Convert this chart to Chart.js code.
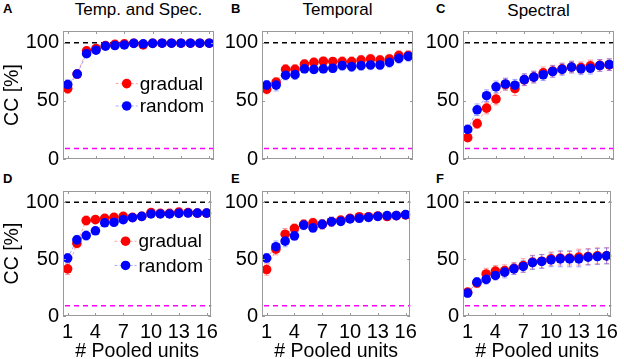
<!DOCTYPE html>
<html>
<head>
<meta charset="utf-8">
<script src="https://cdn.jsdelivr.net/npm/chart.js@4.4.0/dist/chart.umd.min.js"></script>
<style>
  body { margin: 0; background: #fff; width: 624px; height: 359px; position: relative; overflow: hidden; font-family: "Liberation Sans", Arial, sans-serif; }
  canvas { position: absolute; }
  .letter { position: absolute; font-weight: bold; font-size: 13px; line-height: 13px; }
  .title { position: absolute; font-size: 17px; line-height: 17px; width: 151px; text-align: center; white-space: nowrap; }
</style>
</head>
<body>
<div class="letter" style="left:3px;top:2px">A</div>
<div class="letter" style="left:231px;top:2px">B</div>
<div class="letter" style="left:436px;top:2px">C</div>
<div class="letter" style="left:3px;top:172px">D</div>
<div class="letter" style="left:231px;top:172px">E</div>
<div class="letter" style="left:436px;top:172px">F</div>
<div class="title" style="left:63px;top:1px">Temp. and Spec.</div>
<div class="title" style="left:262px;top:1px">Temporal</div>
<div class="title" style="left:463px;top:2px">Spectral</div>

<canvas id="pA" width="222" height="175" style="left:0px;top:0px"></canvas>
<canvas id="pB" width="222" height="175" style="left:199px;top:0px"></canvas>
<canvas id="pC" width="222" height="175" style="left:400px;top:0px"></canvas>
<canvas id="pD" width="222" height="188" style="left:0px;top:175px"></canvas>
<canvas id="pE" width="222" height="188" style="left:199px;top:175px"></canvas>
<canvas id="pF" width="222" height="188" style="left:400px;top:175px"></canvas>

<script>
// Data
const pooledUnits = [1, 2, 3, 4, 5, 6, 7, 8, 9, 10, 11, 12, 13, 14, 15, 16];
const xTicks = [1, 4, 7, 10, 13, 16];
const yTicks = [0, 50, 100];
const seriesNames = ['gradual', 'random'];
const ceilingLevel = 100;
const chanceLevel = 9;

// A - Temp. and Spec. (top row)
const aGradual = [60.5, 73, 93, 95, 97.5, 98.5, 99, 99.5, 98, 99.5, 99.5, 99.5, 99.5, 99.5, 99.5, 99.5];
const aGradualErr = [4, 3, 2, 2, 1.5, 1, 1, 1, 1, 1, 1, 1, 1, 1, 1, 1];
const aRandom = [64, 73, 90.5, 93.5, 97, 97.5, 98, 99.4, 99, 99.4, 99.5, 99.5, 99.5, 99.5, 99.5, 99.5];
const aRandomErr = [4, 3.5, 2, 2, 1.5, 1, 1, 1, 1, 1, 1, 1, 1, 1, 1, 1];
// B - Temporal
const bGradual = [60, 66, 77, 77, 81.5, 83, 84, 83.7, 83.7, 83.7, 85, 86, 85, 86, 89, 89];
const bGradualErr = [4, 4, 4, 4, 3.5, 3.5, 3.5, 3.5, 4, 4, 4, 4, 4, 4, 4, 4];
const bRandom = [63.5, 63.5, 72, 72.5, 77.5, 77, 77.5, 78, 80.3, 79.4, 80.3, 80.8, 80.8, 83, 86.5, 88.2];
const bRandomErr = [4, 5, 4, 4, 3.5, 3.5, 3.5, 3.5, 4, 4, 4, 4, 4, 4, 4, 4];
// C - Spectral
const cGradual = [18.3, 30.4, 43.7, 51.5, 64, 60.6, 68, 70.4, 74, 75.5, 77.5, 79, 78.5, 80, 80.5, 81];
const cGradualErr = [3, 4, 5, 5, 5, 6, 5, 5, 5, 5, 5, 5, 5, 5, 5, 5];
const cRandom = [25.4, 42.3, 54.4, 62, 64.5, 63.4, 68.2, 70.4, 72.4, 75.2, 77, 79, 77.5, 78, 80.3, 81.1];
const cRandomErr = [4, 5, 5, 5, 5, 5, 5, 5, 5, 5, 5, 5, 5, 5, 5, 5];
// D (bottom row)
const dGradual = [41.5, 64, 84, 84.8, 86, 86.8, 87.7, 86.8, 87.7, 91, 90.3, 90.3, 91.5, 91, 90.5, 90.5];
const dGradualErr = [5, 4, 4, 3, 3, 3, 3, 3, 3, 2, 2, 2, 2, 2, 2, 2];
const dRandom = [51, 67, 70.8, 75, 82, 82.5, 84.8, 86.5, 87.7, 89.8, 89.8, 89.8, 90.3, 90.6, 90.6, 90.6];
const dRandomErr = [4, 4, 4, 3, 3, 3, 3, 3, 2, 2, 2, 2, 2, 2, 2, 2];
// E
const eGradual = [40.9, 58.8, 72, 77, 80.6, 82, 80.6, 83, 84.4, 85.9, 87.4, 87.4, 88, 87.5, 88.3, 89];
const eGradualErr = [5, 5, 5, 4, 4, 4, 4, 4, 3, 3, 3, 3, 3, 3, 3, 3];
const eRandom = [51, 61, 65.9, 70.6, 80, 77.6, 80.6, 83, 83.3, 85.4, 86, 86.8, 87.7, 88.3, 88.3, 89.2];
const eRandomErr = [4, 5, 5, 4, 4, 4, 4, 4, 3, 3, 3, 3, 3, 3, 3, 3];
// F
const fGradual = [21, 29, 37, 39.5, 40, 42, 44.4, 47.4, 48.2, 50.3, 50.9, 50.9, 51.8, 52.3, 53, 53];
const fGradualErr = [3, 4, 5, 5, 5, 5, 6, 6, 6, 6, 6, 6, 7, 7, 7, 7];
const fRandom = [20.2, 29.8, 32.2, 35.7, 38.6, 41.5, 43.6, 47, 48, 49.4, 50.3, 50.3, 50.3, 51.8, 52.3, 52.9];
const fRandomErr = [4, 4, 4, 4, 5, 5, 5, 6, 6, 6, 7, 7, 7, 7, 7, 7];

const FONT = '"Liberation Sans", Arial, sans-serif';
const FRAME = '#9a9a9a';

// reference lines, error bars, frame, inward ticks and the in-plot legend
const panelDecor = {
  id: 'panelDecor',
  beforeDatasetsDraw(chart) {
    const { ctx, chartArea: a, scales: { x, y } } = chart;
    ctx.save();
    ctx.lineWidth = 1.5;
    ctx.setLineDash([5, 4]);
    [[ceilingLevel, '#000000'], [chanceLevel, '#ff00ff']].forEach(([v, c]) => {
      const py = y.getPixelForValue(v);
      ctx.strokeStyle = c;
      ctx.beginPath(); ctx.moveTo(a.left + 2, py); ctx.lineTo(a.right, py); ctx.stroke();
    });
    ctx.setLineDash([]);
    ctx.lineWidth = 1;
    chart.data.datasets.slice().reverse().forEach(ds => {
      ctx.strokeStyle = ds.errColor;
      ds.data.forEach((p, i) => {
        const px = x.getPixelForValue(p.x);
        const top = y.getPixelForValue(p.y + ds.err[i]);
        const bot = y.getPixelForValue(p.y - ds.err[i]);
        ctx.beginPath();
        ctx.moveTo(px, top); ctx.lineTo(px, bot);
        ctx.moveTo(px - 2.5, top); ctx.lineTo(px + 2.5, top);
        ctx.moveTo(px - 2.5, bot); ctx.lineTo(px + 2.5, bot);
        ctx.stroke();
      });
    });
    ctx.restore();
  },
  afterDraw(chart) {
    const { ctx, chartArea: a, scales: { x, y } } = chart;
    ctx.save();
    ctx.strokeStyle = FRAME;
    ctx.lineWidth = 1;
    ctx.strokeRect(Math.round(a.left) + 0.5, Math.round(a.top) + 0.5, Math.round(a.width) - 1, Math.round(a.height) - 1);
    ctx.beginPath();
    xTicks.forEach(v => {
      const px = Math.round(x.getPixelForValue(v)) + 0.5;
      ctx.moveTo(px, a.bottom); ctx.lineTo(px, a.bottom - 3);
      ctx.moveTo(px, a.top); ctx.lineTo(px, a.top + 3);
    });
    yTicks.forEach(v => {
      const py = Math.round(y.getPixelForValue(v)) + 0.5;
      ctx.moveTo(a.left, py); ctx.lineTo(a.left + 3, py);
      ctx.moveTo(a.right, py); ctx.lineTo(a.right - 3, py);
    });
    ctx.stroke();

    const lg = chart.options.plugins.panelDecor;
    if (lg && lg.legend) {
      const lx = x.getPixelForValue(lg.legendX);
      lg.legendY.forEach((lv, k) => {
        const ds = chart.data.datasets.find(d => d.label === seriesNames[k]);
        const ly = y.getPixelForValue(lv);
        ctx.strokeStyle = ds.borderColor;
        ctx.setLineDash([3, 2]);
        ctx.beginPath(); ctx.moveTo(lx - 11, ly); ctx.lineTo(lx + 11, ly); ctx.stroke();
        ctx.setLineDash([]);
        ctx.fillStyle = ds.pointBackgroundColor;
        ctx.beginPath(); ctx.arc(lx, ly, 4.8, 0, Math.PI * 2); ctx.fill();
        ctx.fillStyle = '#000';
        ctx.font = '19px ' + FONT;
        ctx.textBaseline = 'middle';
        ctx.fillText(seriesNames[k], lx + 13, ly + 1);
      });
    }
    ctx.restore();
  }
};

function points(vals) {
  return pooledUnits.map((u, i) => ({ x: u, y: vals[i] }));
}

function makePanel(id, gradual, gradualErr, random, randomErr, opts) {
  const bottomRow = opts.bottomRow;
  new Chart(document.getElementById(id), {
    type: 'line',
    data: {
      datasets: [
        { label: seriesNames[1], data: points(random), err: randomErr, errColor: 'rgba(90,90,255,0.55)',
          borderColor: 'rgba(90,90,255,0.5)', borderDash: [3, 2], borderWidth: 1,
          pointRadius: 4.8, pointBackgroundColor: '#0000ff', pointBorderWidth: 0 },
        { label: seriesNames[0], data: points(gradual), err: gradualErr, errColor: 'rgba(255,80,80,0.55)',
          borderColor: 'rgba(255,80,80,0.5)', borderDash: [3, 2], borderWidth: 1,
          pointRadius: 4.8, pointBackgroundColor: '#ff0000', pointBorderWidth: 0 }
      ]
    },
    options: {
      responsive: false,
      animation: false,
      devicePixelRatio: 1,
      layout: { padding: { left: 0, right: 8, top: bottomRow ? 16 : 31, bottom: bottomRow ? 0 : 13 } },
      plugins: {
        legend: { display: false },
        tooltip: { enabled: false },
        panelDecor: { legend: opts.legend, legendX: 7.25, legendY: bottomRow ? [65.8, 44.5] : [64.8, 45.6] }
      },
      scales: {
        x: {
          type: 'linear', min: 0.5, max: 16.5,
          afterBuildTicks: s => { s.ticks = xTicks.map(v => ({ value: v })); },
          afterFit: s => { s.height = bottomRow ? 47 : 0; },
          grid: { display: false, drawTicks: false },
          border: { display: false },
          ticks: { display: bottomRow, color: '#000', padding: 4, maxRotation: 0, autoSkip: false, font: { family: FONT, size: 20 } },
          title: { display: bottomRow, text: '# Pooled units', color: '#000', padding: 0, font: { family: FONT, size: 19.5 } }
        },
        y: {
          min: 0, max: 110,
          afterBuildTicks: s => { s.ticks = yTicks.map(v => ({ value: v })); },
          afterFit: s => { s.width = 63; },
          grid: { display: false, drawTicks: false },
          border: { display: false },
          ticks: { color: '#000', padding: 4, font: { family: FONT, size: 20 } },
          title: { display: opts.yTitle, text: 'CC [%]', color: '#000', padding: { top: 1, bottom: 0 }, font: { family: FONT, size: 19.5 } }
        }
      }
    },
    plugins: [panelDecor]
  });
}

makePanel('pA', aGradual, aGradualErr, aRandom, aRandomErr, { bottomRow: false, yTitle: true, legend: true });
makePanel('pB', bGradual, bGradualErr, bRandom, bRandomErr, { bottomRow: false, yTitle: false, legend: false });
makePanel('pC', cGradual, cGradualErr, cRandom, cRandomErr, { bottomRow: false, yTitle: false, legend: false });
makePanel('pD', dGradual, dGradualErr, dRandom, dRandomErr, { bottomRow: true, yTitle: true, legend: true });
makePanel('pE', eGradual, eGradualErr, eRandom, eRandomErr, { bottomRow: true, yTitle: false, legend: false });
makePanel('pF', fGradual, fGradualErr, fRandom, fRandomErr, { bottomRow: true, yTitle: false, legend: false });
</script>
</body>
</html>
